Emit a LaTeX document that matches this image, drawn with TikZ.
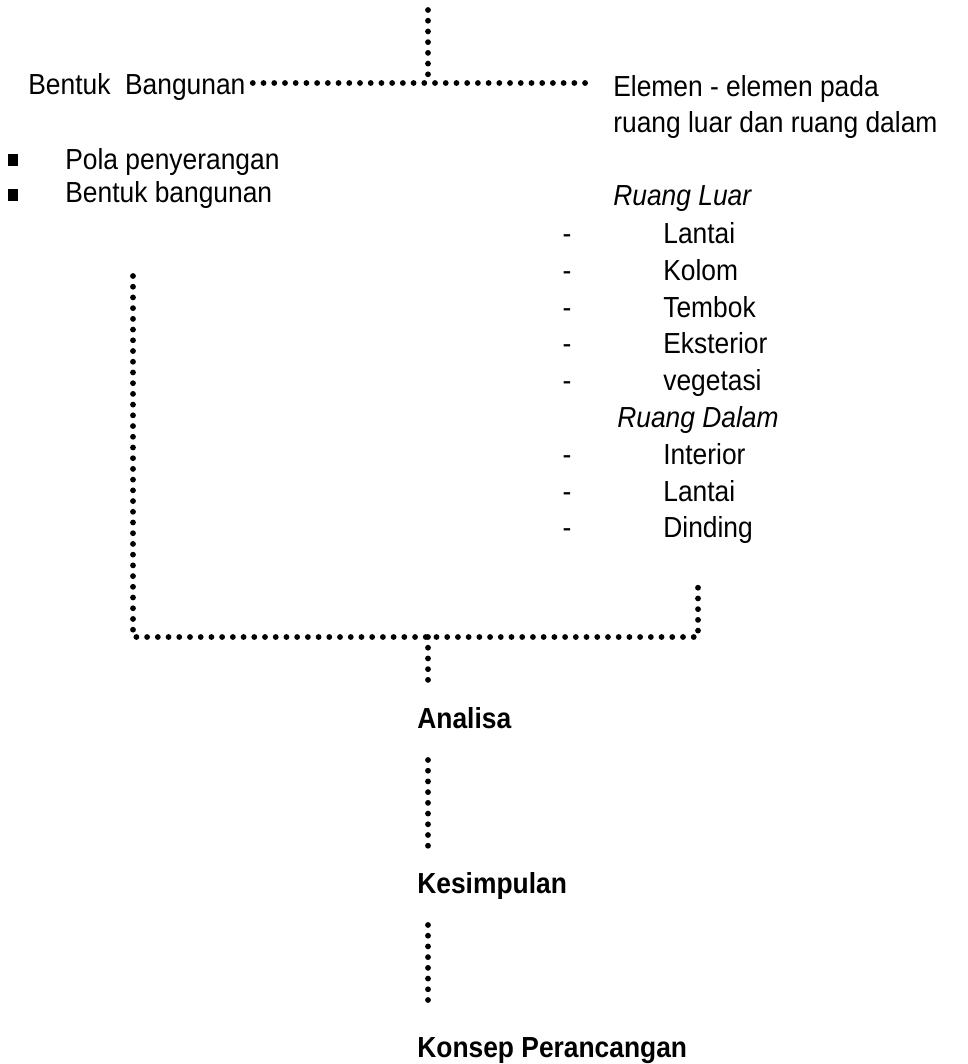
\documentclass[tikz,border=0pt]{standalone}
\usepackage{fontspec}
\setmainfont[FakeStretch=0.91]{Liberation Sans}

\begin{document}
\begin{tikzpicture}[x=0.02cm, y=-0.02cm]
    \tikzset{
        dotline/.style={line width=3.3pt, dash pattern=on 0pt off 6.1pt, line cap=round},
        txt/.style={inner sep=0pt, anchor=base west, font=\fontsize{16.5}{21}\selectfont},
        stage/.style={txt, font=\fontsize{16.5}{21}\selectfont\bfseries, inner ysep=14.5pt, text height=12pt, text depth=3.5pt},
        bullet/.style={fill=black, inner sep=0pt, minimum width=5.7pt, minimum height=7pt},
        dashmark/.style={inner sep=0pt, anchor=base, font=\fontsize{16.5}{21}\selectfont},
    }
    \useasboundingbox (0,0) rectangle (967,1064);
    \def\dx{567}  % x of the dashes
    \def\ix{663}  % x of the list items

    % Top branch
    \node[txt] (bentuk) at (28,95) {Bentuk\ \ Bangunan};
    \node[txt, align=left] (elemen) at (613,133) {Elemen - elemen pada\\ruang luar dan ruang dalam};
    \coordinate (topEnd) at (428,10);
    \coordinate (jTop) at (428,83);
    \draw[dotline] (topEnd) -- (jTop);
    \draw[dotline, shorten <=4pt, shorten >=10.8pt] (bentuk.east |- jTop) -- (elemen.west |- jTop);

    % Left list
    \node[bullet] (bulA) at (13,160) {};
    \node[bullet] (bulB) at (13,195) {};
    \node[txt] (pola) at (65,170) {Pola penyerangan};
    \node[txt] (bentukB) at (65,203) {Bentuk bangunan};

    % Right list
    \node[txt, font=\fontsize{16.5}{21}\selectfont\itshape] (luar) at (613,206) {Ruang Luar};
    \node[dashmark] (dA) at (\dx,243) {-};  \node[txt] (lantaiA) at (\ix,243) {Lantai};
    \node[dashmark] (dB) at (\dx,280) {-};  \node[txt] (kolom) at (\ix,280) {Kolom};
    \node[dashmark] (dC) at (\dx,317) {-};  \node[txt] (tembok) at (\ix,317) {Tembok};
    \node[dashmark] (dD) at (\dx,353) {-};  \node[txt] (eksterior) at (\ix,353) {Eksterior};
    \node[dashmark] (dE) at (\dx,390) {-};  \node[txt] (vegetasi) at (\ix,390) {vegetasi};
    \node[txt, font=\fontsize{16.5}{21}\selectfont\itshape] (dalam) at (617,427) {Ruang Dalam};
    \node[dashmark] (dF) at (\dx,464) {-};  \node[txt] (interior) at (\ix,464) {Interior};
    \node[dashmark] (dG) at (\dx,501) {-};  \node[txt] (lantaiB) at (\ix,501) {Lantai};
    \node[dashmark] (dH) at (\dx,537) {-};  \node[txt] (dinding) at (\ix,537) {Dinding};

    % Bracket joining both branches
    \coordinate (lTop) at (133,276);
    \coordinate (rTop) at (698,587);
    \coordinate (jBot) at (428,637);
    \draw[dotline] (lTop) |- (rTop |- jBot) -- (rTop);

    % Stages
    \node[stage] (analisa) at (417,728) {Analisa};
    \node[stage] (kesimpulan) at (417,893) {Kesimpulan};
    \node[stage] (konsep) at (417,1057) {Konsep Perancangan};
    \draw[dotline] (jBot) -- (jBot |- analisa.north);
    \draw[dotline] (analisa.south -| jBot) -- (jBot |- kesimpulan.north);
    \draw[dotline] (kesimpulan.south -| jBot) -- (jBot |- konsep.north);
\end{tikzpicture}
\end{document}
